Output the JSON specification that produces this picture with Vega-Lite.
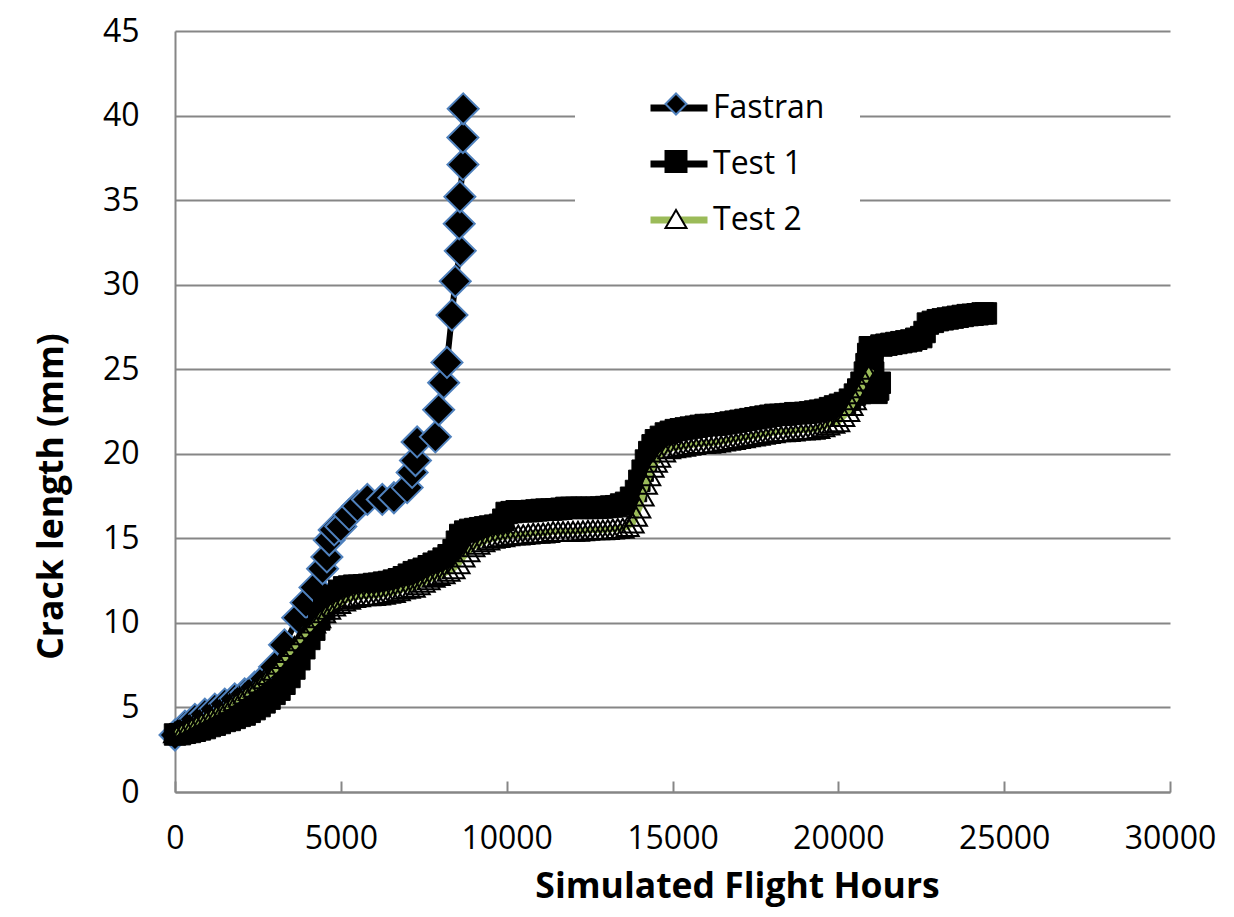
{
  "$schema": "https://vega.github.io/schema/vega-lite/v6.json",
  "width": 995,
  "height": 761,
  "autosize": "none",
  "padding": {"left": 175, "top": 31, "right": 64, "bottom": 125},
  "background": "white",
  "config": {
    "font": "Open Sans",
    "view": {"stroke": null},
    "axis": {
      "labelFont": "Open Sans",
      "labelFontSize": 32,
      "labelColor": "black",
      "titleFont": "Open Sans",
      "titleFontSize": 35.5,
      "titleFontWeight": "bold",
      "titleColor": "black",
      "domainColor": "#868686",
      "domainWidth": 2
    }
  },
  "datasets": {
    "fastran": [
      {"series": "Fastran", "hours": 0, "mm": 3.37},
      {"series": "Fastran", "hours": 300, "mm": 3.9},
      {"series": "Fastran", "hours": 600, "mm": 4.3},
      {"series": "Fastran", "hours": 900, "mm": 4.6},
      {"series": "Fastran", "hours": 1200, "mm": 4.9},
      {"series": "Fastran", "hours": 1500, "mm": 5.2},
      {"series": "Fastran", "hours": 1800, "mm": 5.5},
      {"series": "Fastran", "hours": 2100, "mm": 5.8},
      {"series": "Fastran", "hours": 2400, "mm": 6.2},
      {"series": "Fastran", "hours": 2700, "mm": 6.7},
      {"series": "Fastran", "hours": 3000, "mm": 7.4},
      {"series": "Fastran", "hours": 3300, "mm": 8.7},
      {"series": "Fastran", "hours": 3700, "mm": 10.3},
      {"series": "Fastran", "hours": 3950, "mm": 11.2},
      {"series": "Fastran", "hours": 4220, "mm": 12.1},
      {"series": "Fastran", "hours": 4450, "mm": 13.2},
      {"series": "Fastran", "hours": 4580, "mm": 13.9},
      {"series": "Fastran", "hours": 4650, "mm": 14.9},
      {"series": "Fastran", "hours": 4800, "mm": 15.5},
      {"series": "Fastran", "hours": 5000, "mm": 15.7},
      {"series": "Fastran", "hours": 5250, "mm": 16.4},
      {"series": "Fastran", "hours": 5500, "mm": 16.9},
      {"series": "Fastran", "hours": 5800, "mm": 17.3},
      {"series": "Fastran", "hours": 6250, "mm": 17.3},
      {"series": "Fastran", "hours": 6600, "mm": 17.4},
      {"series": "Fastran", "hours": 7000, "mm": 18.0},
      {"series": "Fastran", "hours": 7150, "mm": 18.9},
      {"series": "Fastran", "hours": 7250, "mm": 19.6},
      {"series": "Fastran", "hours": 7300, "mm": 20.7},
      {"series": "Fastran", "hours": 7850, "mm": 21.0},
      {"series": "Fastran", "hours": 7950, "mm": 22.6},
      {"series": "Fastran", "hours": 8100, "mm": 24.2},
      {"series": "Fastran", "hours": 8200, "mm": 25.4},
      {"series": "Fastran", "hours": 8350, "mm": 28.2},
      {"series": "Fastran", "hours": 8450, "mm": 30.2},
      {"series": "Fastran", "hours": 8600, "mm": 32.0},
      {"series": "Fastran", "hours": 8570, "mm": 33.6},
      {"series": "Fastran", "hours": 8590, "mm": 35.2},
      {"series": "Fastran", "hours": 8680, "mm": 37.1},
      {"series": "Fastran", "hours": 8680, "mm": 38.7},
      {"series": "Fastran", "hours": 8690, "mm": 40.4}
    ],
    "test1": [
      {"series": "Test 1", "hours": 0, "mm": 3.40}, {"series": "Test 1", "hours": 150, "mm": 3.42},
      {"series": "Test 1", "hours": 300, "mm": 3.50}, {"series": "Test 1", "hours": 450, "mm": 3.55},
      {"series": "Test 1", "hours": 600, "mm": 3.62}, {"series": "Test 1", "hours": 750, "mm": 3.70},
      {"series": "Test 1", "hours": 900, "mm": 3.78}, {"series": "Test 1", "hours": 1050, "mm": 3.90},
      {"series": "Test 1", "hours": 1200, "mm": 3.98}, {"series": "Test 1", "hours": 1350, "mm": 4.08},
      {"series": "Test 1", "hours": 1500, "mm": 4.20}, {"series": "Test 1", "hours": 1650, "mm": 4.26},
      {"series": "Test 1", "hours": 1800, "mm": 4.38}, {"series": "Test 1", "hours": 1950, "mm": 4.50},
      {"series": "Test 1", "hours": 2100, "mm": 4.58}, {"series": "Test 1", "hours": 2250, "mm": 4.74},
      {"series": "Test 1", "hours": 2400, "mm": 4.90}, {"series": "Test 1", "hours": 2550, "mm": 5.08},
      {"series": "Test 1", "hours": 2700, "mm": 5.30}, {"series": "Test 1", "hours": 2850, "mm": 5.52},
      {"series": "Test 1", "hours": 3000, "mm": 5.80}, {"series": "Test 1", "hours": 3150, "mm": 6.05},
      {"series": "Test 1", "hours": 3300, "mm": 6.40}, {"series": "Test 1", "hours": 3450, "mm": 6.80},
      {"series": "Test 1", "hours": 3600, "mm": 7.30}, {"series": "Test 1", "hours": 3750, "mm": 7.85},
      {"series": "Test 1", "hours": 3900, "mm": 8.50}, {"series": "Test 1", "hours": 4050, "mm": 9.05},
      {"series": "Test 1", "hours": 4200, "mm": 9.60}, {"series": "Test 1", "hours": 4350, "mm": 10.20},
      {"series": "Test 1", "hours": 4500, "mm": 10.80}, {"series": "Test 1", "hours": 4650, "mm": 11.25},
      {"series": "Test 1", "hours": 4800, "mm": 11.60}, {"series": "Test 1", "hours": 4950, "mm": 11.90},
      {"series": "Test 1", "hours": 5100, "mm": 12.10}, {"series": "Test 1", "hours": 5250, "mm": 12.15},
      {"series": "Test 1", "hours": 5400, "mm": 12.20}, {"series": "Test 1", "hours": 5550, "mm": 12.20},
      {"series": "Test 1", "hours": 5700, "mm": 12.22}, {"series": "Test 1", "hours": 5850, "mm": 12.25},
      {"series": "Test 1", "hours": 6000, "mm": 12.30}, {"series": "Test 1", "hours": 6150, "mm": 12.32},
      {"series": "Test 1", "hours": 6300, "mm": 12.38}, {"series": "Test 1", "hours": 6450, "mm": 12.42},
      {"series": "Test 1", "hours": 6600, "mm": 12.50}, {"series": "Test 1", "hours": 6750, "mm": 12.58},
      {"series": "Test 1", "hours": 6900, "mm": 12.70}, {"series": "Test 1", "hours": 7050, "mm": 12.85},
      {"series": "Test 1", "hours": 7200, "mm": 13.00}, {"series": "Test 1", "hours": 7350, "mm": 13.10},
      {"series": "Test 1", "hours": 7500, "mm": 13.20}, {"series": "Test 1", "hours": 7650, "mm": 13.35},
      {"series": "Test 1", "hours": 7800, "mm": 13.50}, {"series": "Test 1", "hours": 7950, "mm": 13.62},
      {"series": "Test 1", "hours": 8100, "mm": 13.80}, {"series": "Test 1", "hours": 8250, "mm": 14.00},
      {"series": "Test 1", "hours": 8400, "mm": 14.30}, {"series": "Test 1", "hours": 8500, "mm": 14.80},
      {"series": "Test 1", "hours": 8600, "mm": 15.20}, {"series": "Test 1", "hours": 8750, "mm": 15.40},
      {"series": "Test 1", "hours": 8900, "mm": 15.50}, {"series": "Test 1", "hours": 9050, "mm": 15.55},
      {"series": "Test 1", "hours": 9200, "mm": 15.60}, {"series": "Test 1", "hours": 9350, "mm": 15.65},
      {"series": "Test 1", "hours": 9500, "mm": 15.70}, {"series": "Test 1", "hours": 9650, "mm": 15.75},
      {"series": "Test 1", "hours": 9800, "mm": 15.80}, {"series": "Test 1", "hours": 9900, "mm": 16.10},
      {"series": "Test 1", "hours": 10000, "mm": 16.50}, {"series": "Test 1", "hours": 10150, "mm": 16.55},
      {"series": "Test 1", "hours": 10300, "mm": 16.60}, {"series": "Test 1", "hours": 10450, "mm": 16.60},
      {"series": "Test 1", "hours": 10600, "mm": 16.60}, {"series": "Test 1", "hours": 10750, "mm": 16.62},
      {"series": "Test 1", "hours": 10900, "mm": 16.65}, {"series": "Test 1", "hours": 11050, "mm": 16.68},
      {"series": "Test 1", "hours": 11200, "mm": 16.70}, {"series": "Test 1", "hours": 11350, "mm": 16.70},
      {"series": "Test 1", "hours": 11500, "mm": 16.72}, {"series": "Test 1", "hours": 11650, "mm": 16.75},
      {"series": "Test 1", "hours": 11800, "mm": 16.80}, {"series": "Test 1", "hours": 11950, "mm": 16.80},
      {"series": "Test 1", "hours": 12100, "mm": 16.80}, {"series": "Test 1", "hours": 12250, "mm": 16.80},
      {"series": "Test 1", "hours": 12400, "mm": 16.80}, {"series": "Test 1", "hours": 12550, "mm": 16.80},
      {"series": "Test 1", "hours": 12700, "mm": 16.80}, {"series": "Test 1", "hours": 12850, "mm": 16.82},
      {"series": "Test 1", "hours": 13000, "mm": 16.85}, {"series": "Test 1", "hours": 13150, "mm": 16.88},
      {"series": "Test 1", "hours": 13300, "mm": 16.90}, {"series": "Test 1", "hours": 13450, "mm": 17.00},
      {"series": "Test 1", "hours": 13600, "mm": 17.10}, {"series": "Test 1", "hours": 13750, "mm": 17.40},
      {"series": "Test 1", "hours": 13900, "mm": 17.80}, {"series": "Test 1", "hours": 14000, "mm": 18.40},
      {"series": "Test 1", "hours": 14100, "mm": 19.00}, {"series": "Test 1", "hours": 14200, "mm": 19.60},
      {"series": "Test 1", "hours": 14300, "mm": 20.10}, {"series": "Test 1", "hours": 14400, "mm": 20.50},
      {"series": "Test 1", "hours": 14500, "mm": 20.80}, {"series": "Test 1", "hours": 14650, "mm": 21.00},
      {"series": "Test 1", "hours": 14800, "mm": 21.20}, {"series": "Test 1", "hours": 14950, "mm": 21.30},
      {"series": "Test 1", "hours": 15100, "mm": 21.40}, {"series": "Test 1", "hours": 15250, "mm": 21.45},
      {"series": "Test 1", "hours": 15400, "mm": 21.50}, {"series": "Test 1", "hours": 15550, "mm": 21.55},
      {"series": "Test 1", "hours": 15700, "mm": 21.60}, {"series": "Test 1", "hours": 15850, "mm": 21.65},
      {"series": "Test 1", "hours": 16000, "mm": 21.70}, {"series": "Test 1", "hours": 16150, "mm": 21.70},
      {"series": "Test 1", "hours": 16300, "mm": 21.72}, {"series": "Test 1", "hours": 16450, "mm": 21.75},
      {"series": "Test 1", "hours": 16600, "mm": 21.80}, {"series": "Test 1", "hours": 16750, "mm": 21.85},
      {"series": "Test 1", "hours": 16900, "mm": 21.90}, {"series": "Test 1", "hours": 17050, "mm": 21.95},
      {"series": "Test 1", "hours": 17200, "mm": 22.00}, {"series": "Test 1", "hours": 17350, "mm": 22.05},
      {"series": "Test 1", "hours": 17500, "mm": 22.10}, {"series": "Test 1", "hours": 17650, "mm": 22.15},
      {"series": "Test 1", "hours": 17800, "mm": 22.20}, {"series": "Test 1", "hours": 17950, "mm": 22.25},
      {"series": "Test 1", "hours": 18100, "mm": 22.30}, {"series": "Test 1", "hours": 18250, "mm": 22.30},
      {"series": "Test 1", "hours": 18400, "mm": 22.32}, {"series": "Test 1", "hours": 18550, "mm": 22.35},
      {"series": "Test 1", "hours": 18700, "mm": 22.40}, {"series": "Test 1", "hours": 18850, "mm": 22.40},
      {"series": "Test 1", "hours": 19000, "mm": 22.42}, {"series": "Test 1", "hours": 19150, "mm": 22.45},
      {"series": "Test 1", "hours": 19300, "mm": 22.50}, {"series": "Test 1", "hours": 19450, "mm": 22.55},
      {"series": "Test 1", "hours": 19600, "mm": 22.60}, {"series": "Test 1", "hours": 19750, "mm": 22.70},
      {"series": "Test 1", "hours": 19900, "mm": 22.80}, {"series": "Test 1", "hours": 20050, "mm": 22.90},
      {"series": "Test 1", "hours": 20200, "mm": 23.00}, {"series": "Test 1", "hours": 20350, "mm": 23.20},
      {"series": "Test 1", "hours": 20500, "mm": 23.50}, {"series": "Test 1", "hours": 20600, "mm": 23.80},
      {"series": "Test 1", "hours": 20700, "mm": 24.20}, {"series": "Test 1", "hours": 20800, "mm": 24.80},
      {"series": "Test 1", "hours": 20850, "mm": 25.30}, {"series": "Test 1", "hours": 20900, "mm": 25.90},
      {"series": "Test 1", "hours": 20950, "mm": 26.30}, {"series": "Test 1", "hours": 21000, "mm": 25.50},
      {"series": "Test 1", "hours": 21050, "mm": 24.80}, {"series": "Test 1", "hours": 21100, "mm": 24.10},
      {"series": "Test 1", "hours": 21150, "mm": 23.60}, {"series": "Test 1", "hours": 21200, "mm": 23.80},
      {"series": "Test 1", "hours": 21250, "mm": 24.20}, {"series": "Test 1", "hours": 21300, "mm": 26.40},
      {"series": "Test 1", "hours": 21450, "mm": 26.45}, {"series": "Test 1", "hours": 21600, "mm": 26.50},
      {"series": "Test 1", "hours": 21750, "mm": 26.55}, {"series": "Test 1", "hours": 21900, "mm": 26.60},
      {"series": "Test 1", "hours": 22050, "mm": 26.65}, {"series": "Test 1", "hours": 22200, "mm": 26.70},
      {"series": "Test 1", "hours": 22350, "mm": 26.80}, {"series": "Test 1", "hours": 22500, "mm": 26.90},
      {"series": "Test 1", "hours": 22600, "mm": 27.20}, {"series": "Test 1", "hours": 22700, "mm": 27.70},
      {"series": "Test 1", "hours": 22850, "mm": 27.80}, {"series": "Test 1", "hours": 23000, "mm": 27.90},
      {"series": "Test 1", "hours": 23150, "mm": 27.95}, {"series": "Test 1", "hours": 23300, "mm": 28.00},
      {"series": "Test 1", "hours": 23450, "mm": 28.05}, {"series": "Test 1", "hours": 23600, "mm": 28.10},
      {"series": "Test 1", "hours": 23750, "mm": 28.15}, {"series": "Test 1", "hours": 23900, "mm": 28.20},
      {"series": "Test 1", "hours": 24050, "mm": 28.22}, {"series": "Test 1", "hours": 24200, "mm": 28.25},
      {"series": "Test 1", "hours": 24350, "mm": 28.30}, {"series": "Test 1", "hours": 24450, "mm": 28.30}
    ],
    "test2": [
      {"series": "Test 2", "hours": 0, "mm": 3.50}, {"series": "Test 2", "hours": 150, "mm": 3.65},
      {"series": "Test 2", "hours": 300, "mm": 3.80}, {"series": "Test 2", "hours": 450, "mm": 3.95},
      {"series": "Test 2", "hours": 600, "mm": 4.10}, {"series": "Test 2", "hours": 750, "mm": 4.25},
      {"series": "Test 2", "hours": 900, "mm": 4.40}, {"series": "Test 2", "hours": 1050, "mm": 4.55},
      {"series": "Test 2", "hours": 1200, "mm": 4.70}, {"series": "Test 2", "hours": 1350, "mm": 4.85},
      {"series": "Test 2", "hours": 1500, "mm": 5.00}, {"series": "Test 2", "hours": 1650, "mm": 5.20},
      {"series": "Test 2", "hours": 1800, "mm": 5.40}, {"series": "Test 2", "hours": 1950, "mm": 5.60},
      {"series": "Test 2", "hours": 2100, "mm": 5.80}, {"series": "Test 2", "hours": 2250, "mm": 6.00},
      {"series": "Test 2", "hours": 2400, "mm": 6.20}, {"series": "Test 2", "hours": 2550, "mm": 6.45},
      {"series": "Test 2", "hours": 2700, "mm": 6.70}, {"series": "Test 2", "hours": 2850, "mm": 6.95},
      {"series": "Test 2", "hours": 3000, "mm": 7.20}, {"series": "Test 2", "hours": 3150, "mm": 7.55},
      {"series": "Test 2", "hours": 3300, "mm": 7.90}, {"series": "Test 2", "hours": 3450, "mm": 8.25},
      {"series": "Test 2", "hours": 3600, "mm": 8.60}, {"series": "Test 2", "hours": 3750, "mm": 8.95},
      {"series": "Test 2", "hours": 3900, "mm": 9.30}, {"series": "Test 2", "hours": 4050, "mm": 9.65},
      {"series": "Test 2", "hours": 4200, "mm": 10.00}, {"series": "Test 2", "hours": 4350, "mm": 10.30},
      {"series": "Test 2", "hours": 4500, "mm": 10.60}, {"series": "Test 2", "hours": 4650, "mm": 10.80},
      {"series": "Test 2", "hours": 4800, "mm": 11.00}, {"series": "Test 2", "hours": 4950, "mm": 11.15},
      {"series": "Test 2", "hours": 5100, "mm": 11.30}, {"series": "Test 2", "hours": 5250, "mm": 11.40},
      {"series": "Test 2", "hours": 5400, "mm": 11.50}, {"series": "Test 2", "hours": 5550, "mm": 11.55},
      {"series": "Test 2", "hours": 5700, "mm": 11.60}, {"series": "Test 2", "hours": 5850, "mm": 11.60},
      {"series": "Test 2", "hours": 6000, "mm": 11.62}, {"series": "Test 2", "hours": 6150, "mm": 11.65},
      {"series": "Test 2", "hours": 6300, "mm": 11.70}, {"series": "Test 2", "hours": 6450, "mm": 11.75},
      {"series": "Test 2", "hours": 6600, "mm": 11.80}, {"series": "Test 2", "hours": 6750, "mm": 11.90},
      {"series": "Test 2", "hours": 6900, "mm": 12.00}, {"series": "Test 2", "hours": 7050, "mm": 12.05},
      {"series": "Test 2", "hours": 7200, "mm": 12.10}, {"series": "Test 2", "hours": 7350, "mm": 12.25},
      {"series": "Test 2", "hours": 7500, "mm": 12.40}, {"series": "Test 2", "hours": 7650, "mm": 12.55},
      {"series": "Test 2", "hours": 7800, "mm": 12.70}, {"series": "Test 2", "hours": 7950, "mm": 12.80},
      {"series": "Test 2", "hours": 8100, "mm": 12.90}, {"series": "Test 2", "hours": 8250, "mm": 13.05},
      {"series": "Test 2", "hours": 8400, "mm": 13.20}, {"series": "Test 2", "hours": 8550, "mm": 13.50},
      {"series": "Test 2", "hours": 8700, "mm": 13.90}, {"series": "Test 2", "hours": 8850, "mm": 14.20},
      {"series": "Test 2", "hours": 9000, "mm": 14.50}, {"series": "Test 2", "hours": 9150, "mm": 14.65},
      {"series": "Test 2", "hours": 9300, "mm": 14.80}, {"series": "Test 2", "hours": 9450, "mm": 14.90},
      {"series": "Test 2", "hours": 9600, "mm": 15.00}, {"series": "Test 2", "hours": 9750, "mm": 15.05},
      {"series": "Test 2", "hours": 9900, "mm": 15.10}, {"series": "Test 2", "hours": 10050, "mm": 15.15},
      {"series": "Test 2", "hours": 10200, "mm": 15.20}, {"series": "Test 2", "hours": 10350, "mm": 15.20},
      {"series": "Test 2", "hours": 10500, "mm": 15.22}, {"series": "Test 2", "hours": 10650, "mm": 15.25},
      {"series": "Test 2", "hours": 10800, "mm": 15.30}, {"series": "Test 2", "hours": 10950, "mm": 15.30},
      {"series": "Test 2", "hours": 11100, "mm": 15.32}, {"series": "Test 2", "hours": 11250, "mm": 15.35},
      {"series": "Test 2", "hours": 11400, "mm": 15.40}, {"series": "Test 2", "hours": 11550, "mm": 15.40},
      {"series": "Test 2", "hours": 11700, "mm": 15.40}, {"series": "Test 2", "hours": 11850, "mm": 15.40},
      {"series": "Test 2", "hours": 12000, "mm": 15.42}, {"series": "Test 2", "hours": 12150, "mm": 15.42},
      {"series": "Test 2", "hours": 12300, "mm": 15.45}, {"series": "Test 2", "hours": 12450, "mm": 15.48},
      {"series": "Test 2", "hours": 12600, "mm": 15.50}, {"series": "Test 2", "hours": 12750, "mm": 15.50},
      {"series": "Test 2", "hours": 12900, "mm": 15.50}, {"series": "Test 2", "hours": 13050, "mm": 15.52},
      {"series": "Test 2", "hours": 13200, "mm": 15.55}, {"series": "Test 2", "hours": 13350, "mm": 15.58},
      {"series": "Test 2", "hours": 13500, "mm": 15.60}, {"series": "Test 2", "hours": 13650, "mm": 15.70},
      {"series": "Test 2", "hours": 13800, "mm": 15.90}, {"series": "Test 2", "hours": 13900, "mm": 16.30},
      {"series": "Test 2", "hours": 14000, "mm": 16.80}, {"series": "Test 2", "hours": 14100, "mm": 17.50},
      {"series": "Test 2", "hours": 14200, "mm": 18.20}, {"series": "Test 2", "hours": 14300, "mm": 18.70},
      {"series": "Test 2", "hours": 14400, "mm": 19.20}, {"series": "Test 2", "hours": 14500, "mm": 19.50},
      {"series": "Test 2", "hours": 14600, "mm": 19.80}, {"series": "Test 2", "hours": 14750, "mm": 20.10},
      {"series": "Test 2", "hours": 14900, "mm": 20.30}, {"series": "Test 2", "hours": 15050, "mm": 20.35},
      {"series": "Test 2", "hours": 15200, "mm": 20.40}, {"series": "Test 2", "hours": 15350, "mm": 20.45},
      {"series": "Test 2", "hours": 15500, "mm": 20.50}, {"series": "Test 2", "hours": 15650, "mm": 20.55},
      {"series": "Test 2", "hours": 15800, "mm": 20.60}, {"series": "Test 2", "hours": 15950, "mm": 20.60},
      {"series": "Test 2", "hours": 16100, "mm": 20.62}, {"series": "Test 2", "hours": 16250, "mm": 20.65},
      {"series": "Test 2", "hours": 16400, "mm": 20.70}, {"series": "Test 2", "hours": 16550, "mm": 20.75},
      {"series": "Test 2", "hours": 16700, "mm": 20.80}, {"series": "Test 2", "hours": 16850, "mm": 20.85},
      {"series": "Test 2", "hours": 17000, "mm": 20.90}, {"series": "Test 2", "hours": 17150, "mm": 20.95},
      {"series": "Test 2", "hours": 17300, "mm": 21.00}, {"series": "Test 2", "hours": 17450, "mm": 21.05},
      {"series": "Test 2", "hours": 17600, "mm": 21.10}, {"series": "Test 2", "hours": 17750, "mm": 21.15},
      {"series": "Test 2", "hours": 17900, "mm": 21.20}, {"series": "Test 2", "hours": 18050, "mm": 21.25},
      {"series": "Test 2", "hours": 18200, "mm": 21.30}, {"series": "Test 2", "hours": 18350, "mm": 21.30},
      {"series": "Test 2", "hours": 18500, "mm": 21.32}, {"series": "Test 2", "hours": 18650, "mm": 21.35},
      {"series": "Test 2", "hours": 18800, "mm": 21.40}, {"series": "Test 2", "hours": 18950, "mm": 21.40},
      {"series": "Test 2", "hours": 19100, "mm": 21.42}, {"series": "Test 2", "hours": 19250, "mm": 21.45},
      {"series": "Test 2", "hours": 19400, "mm": 21.50}, {"series": "Test 2", "hours": 19550, "mm": 21.60},
      {"series": "Test 2", "hours": 19700, "mm": 21.70}, {"series": "Test 2", "hours": 19850, "mm": 21.80},
      {"series": "Test 2", "hours": 20000, "mm": 21.90}, {"series": "Test 2", "hours": 20150, "mm": 22.20},
      {"series": "Test 2", "hours": 20300, "mm": 22.50}, {"series": "Test 2", "hours": 20400, "mm": 22.85},
      {"series": "Test 2", "hours": 20500, "mm": 23.20}, {"series": "Test 2", "hours": 20600, "mm": 23.55},
      {"series": "Test 2", "hours": 20700, "mm": 23.90}, {"series": "Test 2", "hours": 20800, "mm": 24.30},
      {"series": "Test 2", "hours": 20900, "mm": 24.70}, {"series": "Test 2", "hours": 21000, "mm": 25.00}
    ]
  },
  "data": {"name": "fastran"},
  "encoding": {
    "x": {
      "field": "hours",
      "type": "quantitative",
      "scale": {"domain": [0, 30000], "nice": false, "zero": false},
      "axis": {
        "title": "Simulated Flight Hours",
        "values": [0, 5000, 10000, 15000, 20000, 25000, 30000],
        "format": "d",
        "grid": false,
        "tickColor": "#868686",
        "tickWidth": 2,
        "tickSize": -11,
        "labelPadding": 42,
        "labelFlush": false,
        "titleAnchor": "start",
        "titleAlign": "center",
        "titleBaseline": "alphabetic",
        "titleX": 562,
        "titleY": 105
      }
    },
    "y": {
      "field": "mm",
      "type": "quantitative",
      "scale": {"domain": [0, 45], "nice": false},
      "axis": {
        "title": "Crack length (mm)",
        "values": [0, 5, 10, 15, 20, 25, 30, 35, 40, 45],
        "grid": true,
        "gridColor": "#868686",
        "gridWidth": 2,
        "ticks": false,
        "labelPadding": 36,
        "labelFlush": false,
        "titleAngle": -90,
        "titleAlign": "center",
        "titleBaseline": "alphabetic",
        "titleX": -113,
        "titleY": 465
      }
    }
  },
  "layer": [
    {
      "data": {"name": "fastran"},
      "mark": {"type": "line", "strokeWidth": 6, "strokeJoin": "round", "strokeCap": "round"},
      "encoding": {
        "order": {"value": null},
        "color": {
          "field": "series", "type": "nominal",
          "scale": {"range": ["black", "black", "#9bbb59"]},
          "legend": {"title": null, "orient": "none", "legendX": 400, "legendY": 10, "symbolType": "stroke", "symbolStrokeWidth": 7, "symbolSize": 3249, "labelFontSize": 32, "labelColor": "black", "labelOffset": 2, "fillColor": "white", "padding": 35, "symbolOffset": 37, "rowPadding": 8}
        }
      }
    },
    {
      "data": {"name": "fastran"},
      "mark": {"type": "point", "filled": true, "size": 960, "strokeWidth": 2, "opacity": 1},
      "encoding": {
        "shape": {"field": "series", "type": "nominal", "scale": {"domain": ["Fastran", "Test 1", "Test 2"], "range": ["diamond", "square", "triangle-up"]}, "legend": {"title": null, "orient": "none", "legendX": 475, "legendY": 47, "symbolSize": 440, "symbolStrokeWidth": 2, "symbolOpacity": 1, "labelFontSize": 32, "labelExpr": "''", "padding": 10, "rowPadding": 25.5}},
        "fill": {"field": "series", "type": "nominal", "scale": {"domain": ["Fastran", "Test 1", "Test 2"], "range": ["black", "black", "white"]}, "legend": {"title": null, "orient": "none", "legendX": 475, "legendY": 47, "symbolSize": 440, "symbolStrokeWidth": 2, "symbolOpacity": 1, "labelFontSize": 32, "labelExpr": "''", "padding": 10, "rowPadding": 25.5}},
        "stroke": {"field": "series", "type": "nominal", "scale": {"domain": ["Fastran", "Test 1", "Test 2"], "range": ["#4f81bd", "black", "black"]}, "legend": {"title": null, "orient": "none", "legendX": 475, "legendY": 47, "symbolSize": 440, "symbolStrokeWidth": 2, "symbolOpacity": 1, "labelFontSize": 32, "labelExpr": "''", "padding": 10, "rowPadding": 25.5}}
      }
    },
    {
      "data": {"name": "test1"},
      "mark": {"type": "line", "strokeWidth": 6, "strokeJoin": "round"},
      "encoding": {
        "order": {"value": null},
        "color": {"field": "series", "type": "nominal"}
      }
    },
    {
      "data": {"name": "test1"},
      "mark": {"type": "point", "filled": true, "size": 460, "strokeWidth": 1, "opacity": 1},
      "encoding": {
        "shape": {"field": "series", "type": "nominal"},
        "fill": {"field": "series", "type": "nominal"},
        "stroke": {"field": "series", "type": "nominal"}
      }
    },
    {
      "data": {"name": "test2"},
      "mark": {"type": "line", "strokeWidth": 6, "strokeJoin": "round"},
      "encoding": {
        "order": {"value": null},
        "color": {"field": "series", "type": "nominal"}
      }
    },
    {
      "data": {"name": "test2"},
      "mark": {"type": "point", "filled": false, "fill": "transparent", "size": 480, "strokeWidth": 2, "opacity": 1},
      "encoding": {
        "shape": {"field": "series", "type": "nominal"},
        "stroke": {"field": "series", "type": "nominal"}
      }
    }
  ]
}
